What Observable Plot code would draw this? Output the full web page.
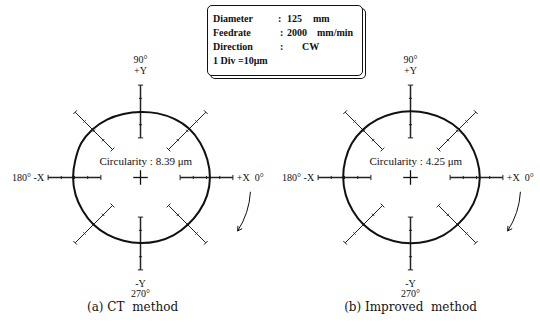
<!DOCTYPE html>
<html>
<head>
<meta charset="utf-8">
<script src="https://cdn.jsdelivr.net/npm/d3@7"></script>
<script src="https://cdn.jsdelivr.net/npm/@observablehq/plot@0.6"></script>
<style>
  body { margin: 0; background: #fff; }
  #wrap { position: relative; width: 540px; height: 323px; color: #111; }
  #panels { display: flex; }
  #info {
    position: absolute; left: 207px; top: 5px; width: 154px; height: 69px;
    border: 1.3px solid #111; border-radius: 5px; background: #fff;
    box-shadow: 3px 3px 0 -1px #fff, 3px 3px 0 0 #111;
    font: bold 10px "Liberation Serif", serif;
  }
  #info span { position: absolute; white-space: pre; }
</style>
</head>
<body>
<div id="wrap">
  <div id="panels"></div>
  <div id="info"></div>
</div>
<script>
// Measurement conditions shown in the box
const conditionLabels = ["Diameter", "Feedrate", "Direction", "1 Div =10\u03bcm"];
const conditionValues = ["125", "2000", "CW", ""];
const conditionUnits = ["mm", "mm/min", "", ""];

// Panels
const panelNames = ["(a) CT  method", "(b) Improved  method"];
const circularity = [8.39, 4.25]; // μm

// Radial deviation of the measured profile from the nominal circle (μm), every 15°
const profileAngles = [0, 15, 30, 45, 60, 75, 90, 105, 120, 135, 150, 165,
                       180, 195, 210, 225, 240, 255, 270, 285, 300, 315, 330, 345];
const ctDeviation = [2.6, 2.4, 2.3, 2.2, 1.2, 0.3, -0.3, -0.2, 0.7, 1.5, 1.9, 1.1,
                     1.1, 0.9, 0.5, 0.4, 0.0, -0.4, -0.3, 0.0, 0.4, 0.6, 1.3, 2.2];
const improvedDeviation = [2.5, 2.2, 1.9, 1.8, 1.0, 0.4, 0.1, 0.2, 0.6, 1.1, 1.4, 1.1,
                           1.0, 0.8, 0.5, 0.4, 0.1, -0.2, -0.2, 0.0, 0.3, 0.5, 1.2, 2.0];
const deviations = [ctDeviation, improvedDeviation];

// Polar grid: eight radial scales, graduated in divisions
const axisAngles = [0, 45, 90, 135, 180, 225, 270, 315];
const tickDivs = [3, 4, 5, 6, 7];
const nominalDivs = 5;   // nominal circle sits on the middle graduation
const umPerDiv = 10;

// Axis direction labels
const axisLabels = [
  {text: "90\u00b0", angle: 90, r: 8.95, anchor: "middle"},
  {text: "+Y", angle: 90, r: 8.1, anchor: "middle"},
  {text: "-Y", angle: 270, r: 8.05, anchor: "middle"},
  {text: "270\u00b0", angle: 270, r: 8.8, anchor: "middle"},
  {text: "180\u00b0 -X", angle: 180, r: 7.3, anchor: "end"},
  {text: "+X  0\u00b0", angle: 0, r: 7.3, anchor: "start"}
];

// Rotation arrow (clockwise), polar angles in degrees
const rotationArrow = {fromDeg: -7.6, toDeg: -28.8, r: 8.4};

const rad = d => d * Math.PI / 180;
const polar = (r, deg) => ({x: r * Math.cos(rad(deg)), y: r * Math.sin(rad(deg))});

const pxPerDiv = 13.2;
const W = 270, H = 323, cx = 140, cy = 177;
const font = '"Liberation Serif", serif';

function panel(i) {
  const profile = profileAngles.map((a, k) => polar(nominalDivs + deviations[i][k] / umPerDiv, a));
  const spokes = axisAngles.map(a => {
    const p = polar(tickDivs[0], a), q = polar(tickDivs[tickDivs.length - 1], a);
    return {x1: p.x, y1: p.y, x2: q.x, y2: q.y, w: a % 90 === 0 ? 1.5 : 1};
  });
  const ticks = axisAngles.flatMap(a => tickDivs.map((d, j) => {
    const c = polar(d, a);
    const h = (j === 0 || j === tickDivs.length - 1) ? 0.2 : 0.12;
    const nx = -Math.sin(rad(a)) * h, ny = Math.cos(rad(a)) * h;
    return {x1: c.x - nx, y1: c.y - ny, x2: c.x + nx, y2: c.y + ny};
  }));
  const cross = [{x1: -0.55, y1: 0, x2: 0.55, y2: 0}, {x1: 0, y1: -0.55, x2: 0, y2: 0.55}];
  const labels = axisLabels.map(l => ({...l, ...polar(l.r, l.angle)}));
  const a0 = polar(rotationArrow.r, rotationArrow.fromDeg), a1 = polar(rotationArrow.r, rotationArrow.toDeg);
  const labelMark = anchor => Plot.text(labels.filter(l => l.anchor === anchor), {
    x: "x", y: "y", text: "text", textAnchor: anchor, fontSize: 10, fill: "#111"
  });

  return Plot.plot({
    width: W, height: H, margin: 0,
    x: {domain: [-cx / pxPerDiv, (W - cx) / pxPerDiv], axis: null},
    y: {domain: [-(H - cy) / pxPerDiv, cy / pxPerDiv], axis: null},
    style: {background: "transparent", fontFamily: font, color: "#111"},
    marks: [
      Plot.link(spokes, {x1: "x1", y1: "y1", x2: "x2", y2: "y2", stroke: "#222", strokeWidth: "w"}),
      Plot.link(ticks, {x1: "x1", y1: "y1", x2: "x2", y2: "y2", stroke: "#222", strokeWidth: 1}),
      Plot.link(cross, {x1: "x1", y1: "y1", x2: "x2", y2: "y2", stroke: "#111", strokeWidth: 1.3}),
      Plot.line(profile, {x: "x", y: "y", curve: "catmull-rom-closed", stroke: "#111", strokeWidth: 2}),
      Plot.text([`Circularity : ${circularity[i].toFixed(2)} \u03bcm`], {
        x: 0.4, y: 1.23, fontSize: 11, fill: "#111"
      }),
      labelMark("middle"),
      labelMark("start"),
      labelMark("end"),
      Plot.arrow([{x1: a0.x, y1: a0.y, x2: a1.x, y2: a1.y}], {
        x1: "x1", y1: "y1", x2: "x2", y2: "y2", bend: 15, headLength: 7, stroke: "#111", strokeWidth: 1
      }),
      Plot.text([panelNames[i]], {x: i === 0 ? -0.6 : 0, y: -9.85, fontSize: 12, fill: "#111", fontFamily: '"DejaVu Serif", serif'})
    ]
  });
}

const host = document.getElementById("panels");
[0, 1].forEach(i => host.appendChild(panel(i)));

// Condition box
const info = document.getElementById("info");
const rowTop = [7, 21, 35, 49];
conditionLabels.forEach((lab, k) => {
  const add = (text, left) => {
    const s = document.createElement("span");
    s.textContent = text; s.style.left = left + "px"; s.style.top = rowTop[k] + "px";
    info.appendChild(s);
  };
  add(lab, 5);
  if (k < 3) add(":", k === 0 ? 70 : 72);
  if (conditionValues[k]) add(conditionValues[k], k === 2 ? 94 : 79);
  if (conditionUnits[k]) add(conditionUnits[k], k === 0 ? 105 : 109);
});
</script>
</body>
</html>
